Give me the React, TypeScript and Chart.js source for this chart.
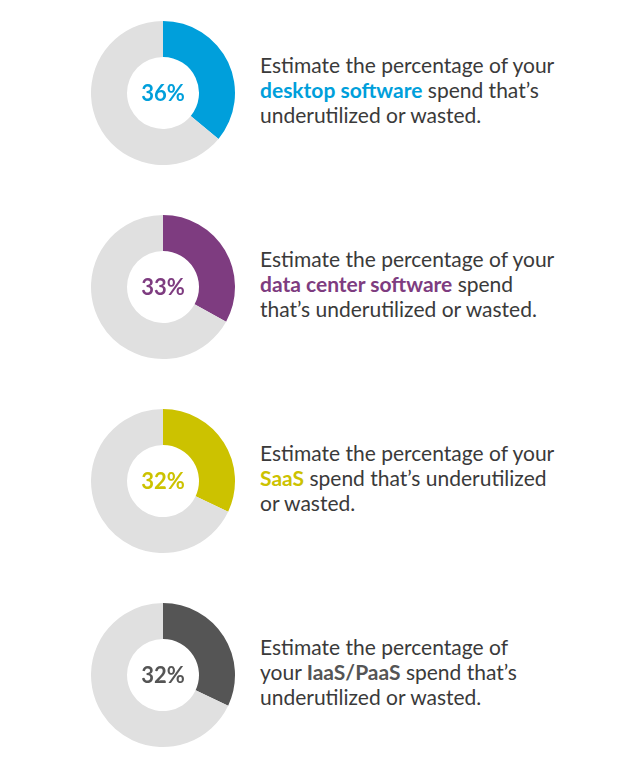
import React, { useEffect, useRef } from "react";
import { Chart, registerables } from "chart.js";
Chart.register(...registerables);

const categories = ["desktop software", "data center software", "SaaS", "IaaS/PaaS"];
const values = [36, 33, 32, 32];
const colors = ["#009FDB", "#7E3C80", "#CCC200", "#555555"];
const restColor = "#E0E0E0";
// text lines: [before, highlighted, after] per line
const lines: string[][][] = [
  [["Estimate the percentage of your", "", ""], ["", "desktop software", " spend that\u2019s"], ["underutilized or wasted.", "", ""]],
  [["Estimate the percentage of your", "", ""], ["", "data center software", " spend"], ["that\u2019s underutilized or wasted.", "", ""]],
  [["Estimate the percentage of your", "", ""], ["", "SaaS", " spend that\u2019s underutilized"], ["or wasted.", "", ""]],
  [["Estimate the percentage of", "", ""], ["your ", "IaaS/PaaS", " spend that\u2019s"], ["underutilized or wasted.", "", ""]],
];

const FONT = "Lato, 'Open Sans', sans-serif";
const ROW_GAP = 194;

function Donut({ index }: { index: number }) {
  const ref = useRef<HTMLCanvasElement>(null);
  useEffect(() => {
    const v = values[index];
    const color = colors[index];
    const centerText = {
      id: "centerText",
      afterDraw(chart: any) {
        const meta = chart.getDatasetMeta(0);
        const arc = meta.data[0];
        if (!arc) return;
        const { x, y } = arc;
        const ctx = chart.ctx;
        ctx.save();
        ctx.fillStyle = color;
        ctx.font = `700 22px ${FONT}`;
        ctx.textAlign = "center";
        ctx.textBaseline = "middle";
        ctx.fillText(`${v}%`, x, y + 1);
        ctx.restore();
      },
    };
    const chart = new Chart(ref.current!, {
      type: "doughnut",
      data: {
        labels: [categories[index], "other"],
        datasets: [
          {
            data: [v, 100 - v],
            backgroundColor: [color, restColor],
            borderWidth: 0,
          },
        ],
      },
      options: {
        animation: false,
        responsive: false,
        cutout: "50%",
        layout: { padding: 3 },
        plugins: { legend: { display: false }, tooltip: { enabled: false } },
        events: [],
      },
      plugins: [centerText],
    });
    return () => chart.destroy();
  }, [index]);
  return (
    <canvas
      ref={ref}
      width={150}
      height={150}
      style={{ position: "absolute", left: 88, top: 18 + index * ROW_GAP, width: 150, height: 150 }}
    />
  );
}

export default function App() {
  return (
    <div style={{ position: "absolute", left: 0, top: 0, width: 622, height: 758, background: "#fff", overflow: "hidden" }}>
      {values.map((_, i) => (
        <React.Fragment key={i}>
          <Donut index={i} />
          <div
            style={{
              position: "absolute",
              left: 260,
              top: 52 + i * ROW_GAP,
              fontFamily: FONT,
              fontSize: 21,
              lineHeight: "25px",
              color: "#3a3a3a",
              whiteSpace: "nowrap",
            }}
          >
            {lines[i].map((ln, j) => (
              <div key={j}>
                {ln[0]}
                {ln[1] && <span style={{ color: colors[i], fontWeight: 700 }}>{ln[1]}</span>}
                {ln[2]}
              </div>
            ))}
          </div>
        </React.Fragment>
      ))}
    </div>
  );
}
